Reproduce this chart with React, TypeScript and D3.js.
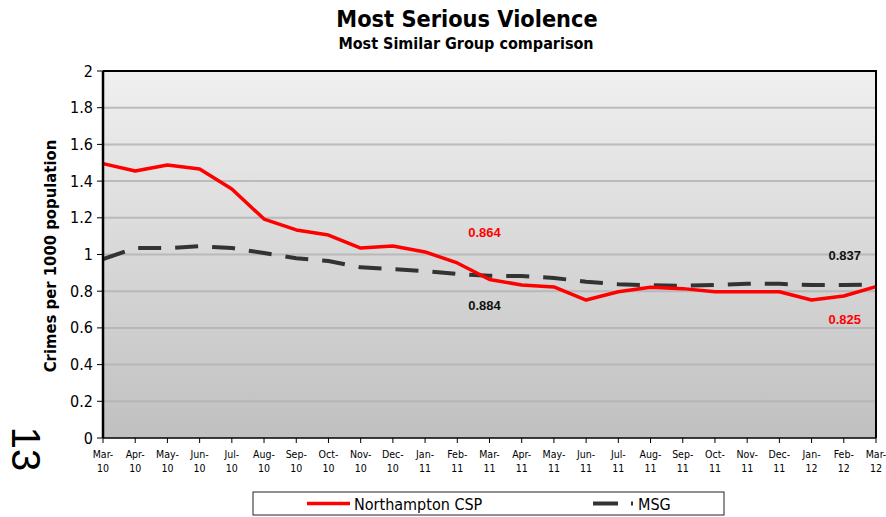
import React from "react";
import * as d3 from "d3";

const months = ["Mar-10","Apr-10","May-10","Jun-10","Jul-10","Aug-10","Sep-10","Oct-10","Nov-10","Dec-10","Jan-11","Feb-11","Mar-11","Apr-11","May-11","Jun-11","Jul-11","Aug-11","Sep-11","Oct-11","Nov-11","Dec-11","Jan-12","Feb-12","Mar-12"];
const northampton = [1.495,1.455,1.488,1.466,1.357,1.193,1.134,1.106,1.035,1.046,1.014,0.954,0.864,0.834,0.823,0.752,0.797,0.821,0.814,0.797,0.797,0.797,0.752,0.774,0.825];
const msg = [0.975,1.035,1.035,1.045,1.035,1.008,0.98,0.965,0.93,0.92,0.91,0.894,0.884,0.883,0.872,0.852,0.838,0.832,0.83,0.834,0.841,0.84,0.834,0.834,0.837];
const yTicks = [0,0.2,0.4,0.6,0.8,1,1.2,1.4,1.6,1.8,2];
const annotations = [
  { text: "0.864", idx: 12, val: 1.124, color: "#ff0000" },
  { text: "0.884", idx: 12, val: 0.725, color: "#111" },
  { text: "0.837", idx: 23, val: 0.997, color: "#111" },
  { text: "0.825", idx: 23, val: 0.648, color: "#ff0000" },
];

const W = 886, H = 517;
const L = 103, R = 876, T = 71, B = 438;
const FONT = "Tahoma, 'DejaVu Sans Condensed', 'DejaVu Sans', sans-serif";

export default function App() {
  const x = d3.scaleLinear().domain([0, months.length - 1]).range([L, R]);
  const y = d3.scaleLinear().domain([0, 2]).range([B, T]);
  const line = d3.line<number>().x((_, i) => x(i)).y((d) => y(d));
  return (
    <svg width={W} height={H} style={{ position: "absolute", left: 0, top: 0, background: "#fff" }}>
      <defs>
        <linearGradient id="bg" x1="0" y1="0" x2="0" y2="1">
          <stop offset="0" stopColor="#f0f0f0" />
          <stop offset="1" stopColor="#c0c0c0" />
        </linearGradient>
      </defs>
      <text x={467} y={27} textAnchor="middle" fontFamily={FONT} fontWeight="bold" fontSize={23.3}>Most Serious Violence</text>
      <text x={466} y={49} textAnchor="middle" fontFamily={FONT} fontWeight="bold" fontSize={16}>Most Similar Group comparison</text>
      <rect x={L} y={T} width={R - L} height={B - T} fill="url(#bg)" />
      {yTicks.slice(1, -1).map((t) => (
        <line key={t} x1={L} x2={R} y1={y(t)} y2={y(t)} stroke="#b4b4b4" strokeWidth={2} opacity={0.85} />
      ))}
      {yTicks.map((t) => (
        <g key={"yt" + t}>
          <line x1={L - 6} x2={L} y1={y(t)} y2={y(t)} stroke="#000" strokeWidth={1} />
          <text x={L - 10} y={y(t) + 5.5} textAnchor="end" fontFamily={FONT} fontSize={16}>{t}</text>
        </g>
      ))}
      {months.map((m, i) => {
        const [a, b] = m.split("-");
        return (
          <g key={m + i}>
            <line x1={x(i)} x2={x(i)} y1={B} y2={B + 5} stroke="#000" strokeWidth={1} />
            <text x={x(i)} y={B + 20} textAnchor="middle" fontFamily={FONT} fontSize={10.5}>{a + "-"}</text>
            <text x={x(i)} y={B + 34} textAnchor="middle" fontFamily={FONT} fontSize={10.5}>{b}</text>
          </g>
        );
      })}
      <path d={line(msg) || ""} fill="none" stroke="#333" strokeWidth={4} strokeDasharray="23 14" />
      <path d={line(northampton) || ""} fill="none" stroke="#ff0000" strokeWidth={3.5} strokeLinejoin="round" />
      <path d={`M${L},${T}H${R}V${B}`} fill="none" stroke="#000" strokeWidth={2} />
      <line x1={L} x2={L} y1={T} y2={B} stroke="#000" strokeWidth={2.5} />
      <line x1={L} x2={R} y1={B} y2={B} stroke="#000" strokeWidth={1.5} />
      {annotations.map((a) => (
        <text key={a.text} x={x(a.idx) + (a.idx === 12 ? -5 : 1)} y={y(a.val) + 5} textAnchor="middle" fontFamily="Arial, 'Liberation Sans', sans-serif" fontWeight="bold" fontSize={13} fill={a.color}>{a.text}</text>
      ))}
      <text transform={`translate(56,256) rotate(-90)`} textAnchor="middle" fontFamily={FONT} fontWeight="bold" fontSize={16.5}>Crimes per 1000 population</text>
      <text transform={`translate(12,449) rotate(90)`} textAnchor="middle" fontFamily="Arial, 'Liberation Sans', sans-serif" fontSize={40}>13</text>
      <rect x={253} y={492} width={471} height={23} fill="#fff" stroke="#222" strokeWidth={1} />
      <line x1={307} x2={350} y1={503.5} y2={503.5} stroke="#ff0000" strokeWidth={3.5} />
      <text x={354} y={509.5} fontFamily={FONT} fontSize={16}>Northampton CSP</text>
      <line x1={593} x2={618} y1={503.5} y2={503.5} stroke="#333" strokeWidth={4} />
      <line x1={631} x2={633} y1={503.5} y2={503.5} stroke="#333" strokeWidth={4} />
      <text x={638} y={509.5} fontFamily={FONT} fontSize={16}>MSG</text>
    </svg>
  );
}
